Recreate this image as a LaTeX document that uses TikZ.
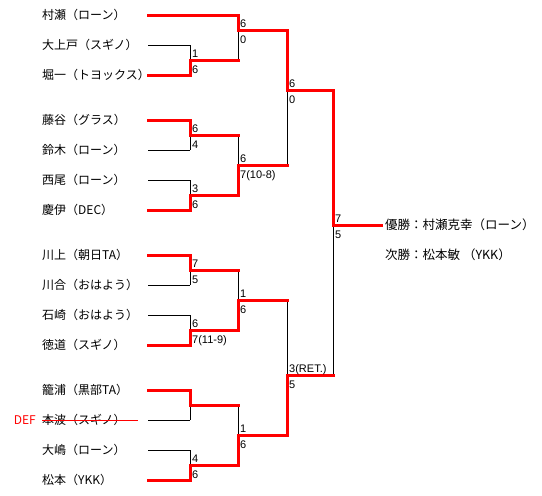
\documentclass[tikz,border=0pt]{standalone}
\usepackage{fontspec}
\setmainfont{Noto Sans CJK JP}
\newfontfamily\scorefont{Liberation Sans}
\usetikzlibrary{calc}
\pgfdeclarelayer{back}
\pgfsetlayers{back,main}

\begin{document}
\begin{tikzpicture}[x=1pt, y=-1pt,
  win/.style={red, line width=3pt, line cap=rect},
  lose/.style={black, line width=0.8pt},
  pname/.style={anchor=base west, inner sep=0pt, font=\fontsize{12}{14}\selectfont},
  score/.style={anchor=base west, inner sep=0pt, font=\scorefont\fontsize{11}{12}\selectfont}]

\useasboundingbox (0,0) rectangle (542,496);
\begin{pgfonlayer}{back}
  \fill[white] (0,0) rectangle (542,496);
\end{pgfonlayer}

%-- players: index / line y / name / line end / style
\foreach \i/\y/\nm/\xe/\st in {
   1/15/村瀬（ローン）/238/win,
   2/45/大上戸（スギノ）/190/lose,
   3/75/堀一（トヨックス）/190/win,
   4/120/藤谷（グラス）/190/win,
   5/150/鈴木（ローン）/190/lose,
   6/180/西尾（ローン）/190/lose,
   7/210/慶伊（DEC）/190/win,
   8/255/川上（朝日TA）/190/win,
   9/285/川合（おはよう）/190/lose,
  10/315/石崎（おはよう）/190/lose,
  11/345/徳道（スギノ）/190/win,
  12/390/籠浦（黒部TA）/190/win,
  13/420/本波（スギノ）/190/lose,
  14/450/大嶋（ローン）/190/lose,
  15/480/松本（YKK）/190/win}
{
  \node[pname] (n\i) at (42,\y+4.5) {\nm};
  \coordinate (p\i) at (148,\y);
  \begin{pgfonlayer}{back}
    \draw[\st] (p\i) -- (\xe,\y);
  \end{pgfonlayer}
}

%-- matches: vertical x / top y / bottom y / out y / next x / winner y / scores
\foreach \vx/\ya/\yb/\yo/\nx/\w/\sa/\sb in {
  190/45/75/60/238/75/1/6,
  190/120/150/135/238/120/6/4,
  190/180/210/195/238/210/3/6,
  190/255/285/270/238/255/7/5,
  190/315/345/330/238/345/6/7(11-9),
  190/390/420/405/238/390/{}/{},
  190/450/480/465/238/480/4/6,
  238/15/60/30/287/15/6/0,
  238/135/195/165/287/195/6/7(10-8),
  238/270/330/300/287/330/1/6,
  238/405/465/435/287/465/1/6,
  287/30/165/90/333/30/6/0,
  287/300/435/375/333/435/3(RET.)/5,
  333/90/375/225/381/90/7/5}
{
  \begin{pgfonlayer}{back}
    \draw[lose] (\vx,\ya) -- (\vx,\yb);
  \end{pgfonlayer}
  \draw[win] (\vx,\w) -- (\vx,\yo) -- (\nx,\yo);
  \node[score] at (\vx+2,\yo-3) {\sa};
  \node[score] at (\vx+2,\yo+13) {\sb};
}

%-- default
\node[pname, red, anchor=base east] (def) at (36,424.5) {DEF};
\draw[red, line width=0.8pt] (n13.west |- p13) -- ++(96,0);

%-- result
\node[pname, font=\fontsize{12.5}{14}\selectfont] (champ)  at (385,229.5) {優勝：村瀬克幸（ローン）};
\node[pname, font=\fontsize{12.5}{14}\selectfont] (runner) at (385,259.5) {次勝：松本敏 （YKK）};

\end{tikzpicture}
\end{document}
